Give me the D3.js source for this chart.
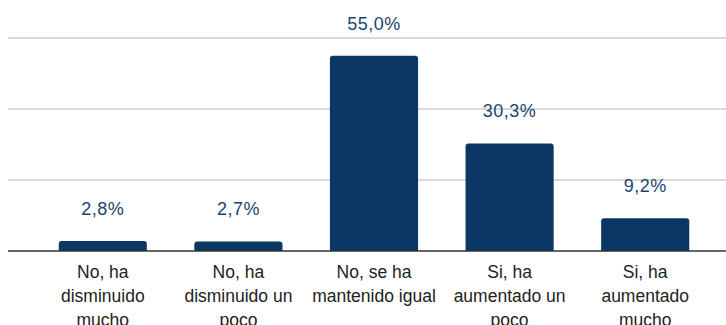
<!DOCTYPE html>
<html><head><meta charset="utf-8">
<script src="https://cdn.jsdelivr.net/npm/d3@7"></script>
<style>body{margin:0;background:#fff;}svg{display:block;font-family:"Liberation Sans",Arial,sans-serif;}</style>
</head><body>
<svg id="c" width="726" height="325"></svg>
<script>
const categories = ["No, ha disminuido mucho","No, ha disminuido un poco","No, se ha mantenido igual","Si, ha aumentado un poco","Si, ha aumentado mucho"];
const categoryLines = [["No, ha","disminuido","mucho"],["No, ha","disminuido un","poco"],["No, se ha","mantenido igual"],["Si, ha","aumentado un","poco"],["Si, ha","aumentado","mucho"]];
const values = [2.8, 2.7, 55.0, 30.3, 9.2];
const valueLabels = ["2,8%","2,7%","55,0%","30,3%","9,2%"];
const yTicks = [0, 20, 40, 60];

const svg = d3.select("#c");
const x = d3.scaleBand().domain(categories).range([35, 713]).paddingInner(0.35).paddingOuter(0.175);
const y = d3.scaleLinear().domain([0, 60]).range([251, 38]);

svg.append("g").selectAll("line").data(yTicks.filter(t=>t>0)).join("line")
  .attr("x1", 8).attr("x2", 726).attr("y1", d=>y(d)).attr("y2", d=>y(d))
  .attr("stroke", "#cccccc").attr("stroke-width", 1.5);

const r = 3;
svg.append("g").selectAll("path").data(values).join("path")
  .attr("fill", "#0b3764")
  .attr("d", (d,i)=>{
    const x0 = x(categories[i]), w = x.bandwidth(), y0 = y(d), b = y(0);
    return `M${x0},${b}V${y0+r}Q${x0},${y0} ${x0+r},${y0}H${x0+w-r}Q${x0+w},${y0} ${x0+w},${y0+r}V${b}Z`;
  });

svg.append("line").attr("x1", 8).attr("x2", 726).attr("y1", y(0)).attr("y2", y(0))
  .attr("stroke", "#333333").attr("stroke-width", 1.5);

svg.append("g").selectAll("text").data(values).join("text")
  .attr("x", (d,i)=>x(categories[i]) + x.bandwidth()/2)
  .attr("y", d=>y(d) - 26)
  .attr("text-anchor", "middle").attr("fill", "#1c456e").attr("font-size", 18)
  .attr("letter-spacing", 0.5)
  .text((d,i)=>valueLabels[i]);

const lab = svg.append("g").selectAll("text").data(categories).join("text")
  .attr("text-anchor", "middle").attr("fill", "#222222").attr("font-size", 17.5);
lab.each(function(c,i){
  const cx = x(c) + x.bandwidth()/2;
  d3.select(this).selectAll("tspan").data(categoryLines[i]).join("tspan")
    .attr("x", cx).attr("y", (l,j)=>278 + j*24).text(l=>l);
});
</script>
</body></html>
